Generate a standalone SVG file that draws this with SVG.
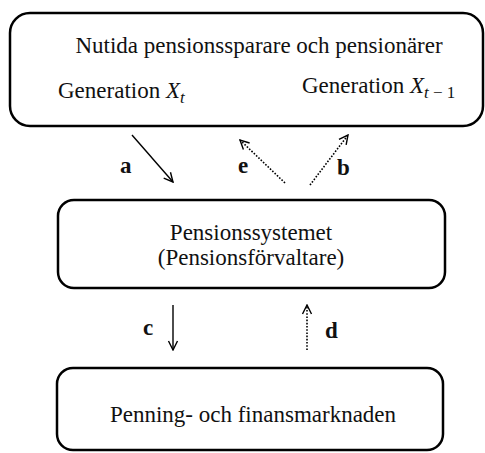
<svg xmlns="http://www.w3.org/2000/svg" width="485" height="453" viewBox="0 0 485 453">
<style>
.box{fill:#fff;stroke:#000;stroke-width:2.5}
.t{font-family:"Liberation Serif","Times New Roman",serif;font-size:23px;fill:#111}
.lbl{font-family:"Liberation Serif","Times New Roman",serif;font-size:23px;font-weight:bold;fill:#111}
.solid{fill:none;stroke:#000;stroke-width:1.4}
.dot{fill:none;stroke:#000;stroke-width:1.6;stroke-dasharray:1.6 1.6}
</style>
<defs>
<marker id="ah" viewBox="0 0 12 12" refX="11" refY="6" markerWidth="12" markerHeight="12" orient="auto" markerUnits="userSpaceOnUse">
<path d="M2,1.5 L11,6 L2,10.5" fill="none" stroke="#000" stroke-width="1.4" stroke-dasharray="none"/>
</marker>
</defs>
<rect width="485" height="453" fill="#fff"/>
<g id="top">
<rect class="box" x="10" y="13" width="473" height="113" rx="20" ry="20"/>
<text class="t" x="259" y="53" text-anchor="middle">Nutida pensionssparare och pensionärer</text>
<text class="t" x="58" y="98">Generation <tspan font-style="italic">X</tspan><tspan font-style="italic" font-size="17" dy="5">t</tspan></text>
<text class="t" x="302" y="93">Generation <tspan font-style="italic">X</tspan><tspan font-size="17" dy="5"><tspan font-style="italic">t</tspan> − 1</tspan></text>
</g>
<g id="mid">
<rect class="box" x="58" y="200" width="387" height="88" rx="16" ry="16"/>
<text class="t" x="251" y="240" text-anchor="middle">Pensionssystemet</text>
<text class="t" x="251" y="265" text-anchor="middle">(Pensionsförvaltare)</text>
</g>
<g id="bottom">
<rect class="box" x="57" y="368" width="386" height="82" rx="16" ry="16"/>
<text class="t" x="253" y="422" text-anchor="middle">Penning- och finansmarknaden</text>
</g>
<g id="connectors">
<path class="solid" d="M132,135 L173,182" marker-end="url(#ah)"/>
<path class="dot" d="M285,183 L240,140" marker-end="url(#ah)"/>
<path class="dot" d="M310,185 L348,135" marker-end="url(#ah)"/>
<path class="solid" d="M173,305 L173,350" marker-end="url(#ah)"/>
<path class="dot" d="M307,350 L307,305" marker-end="url(#ah)"/>
<text class="lbl" x="120" y="173">a</text>
<text class="lbl" x="238" y="173">e</text>
<text class="lbl" x="337" y="175">b</text>
<text class="lbl" x="143" y="335">c</text>
<text class="lbl" x="325" y="338">d</text>
</g>
</svg>
